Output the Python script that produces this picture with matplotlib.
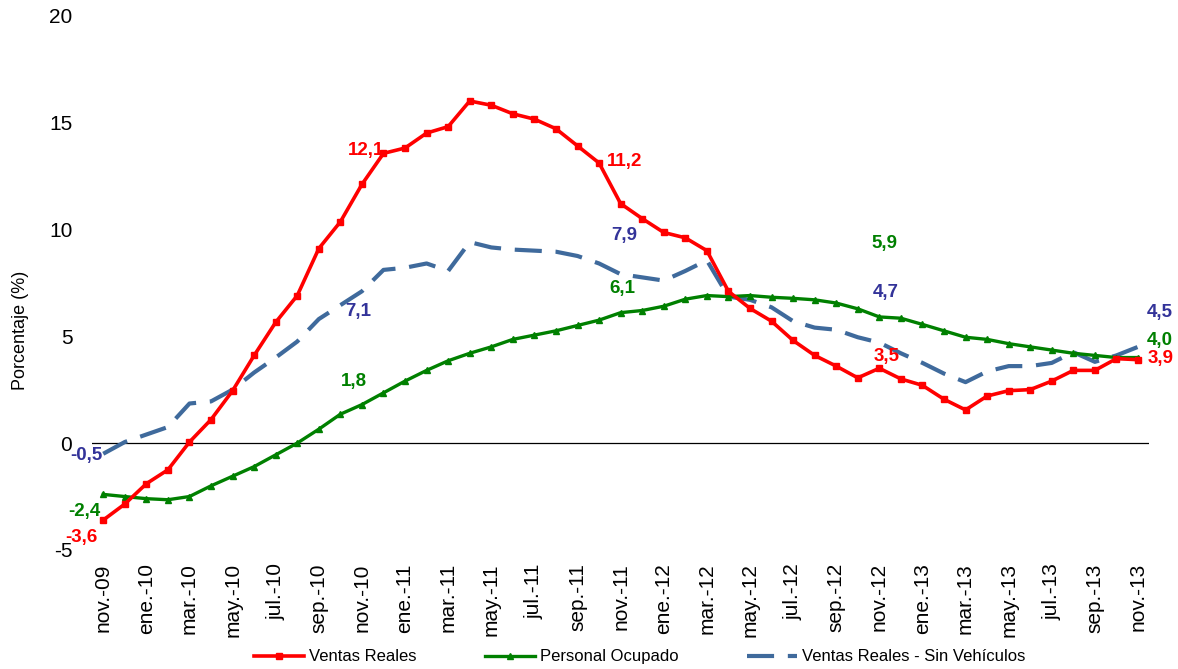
import matplotlib
matplotlib.use("Agg")
import matplotlib.pyplot as plt
import numpy as np

plt.rcParams['font.family'] = ['Liberation Sans', 'DejaVu Sans']
plt.rcParams['axes.unicode_minus'] = False

# monthly series, nov-09 .. nov-13 (49 points)
ventas = [-3.6, -2.85, -1.9, -1.25, 0.05, 1.1, 2.45, 4.1, 5.65, 6.9,
          9.1, 10.35, 12.1, 13.55, 13.8, 14.5, 14.8, 16.0, 15.8, 15.4,
          15.15, 14.7, 13.9, 13.1, 11.2, 10.5, 9.85, 9.6, 9.0, 7.1,
          6.3, 5.7, 4.8, 4.1, 3.6, 3.05, 3.5, 3.0, 2.7, 2.05,
          1.55, 2.2, 2.45, 2.5, 2.9, 3.4, 3.4, 3.95, 3.9]
personal = [-2.4, -2.5, -2.6, -2.65, -2.5, -2.0, -1.55, -1.1, -0.55, 0.0,
            0.65, 1.35, 1.8, 2.35, 2.9, 3.4, 3.85, 4.2, 4.5, 4.85,
            5.05, 5.25, 5.5, 5.75, 6.1, 6.2, 6.4, 6.73, 6.9, 6.85,
            6.9, 6.82, 6.77, 6.7, 6.55, 6.28, 5.9, 5.84, 5.55, 5.25,
            4.95, 4.85, 4.65, 4.5, 4.35, 4.2, 4.1, 4.0, 4.0]
sin_veh = [-0.5, 0.05, 0.4, 0.75, 1.85, 1.95, 2.5, 3.3, 4.0, 4.75,
           5.8, 6.45, 7.1, 8.1, 8.2, 8.4, 8.05, 9.4, 9.15, 9.05,
           9.0, 8.95, 8.75, 8.4, 7.9, 7.75, 7.6, 8.05, 8.55, 6.85,
           6.7, 6.35, 5.7, 5.4, 5.3, 4.95, 4.7, 4.2, 3.75, 3.25,
           2.85, 3.35, 3.6, 3.6, 3.75, 4.25, 3.8, 4.1, 4.5]

tick_labels = ['nov.-09', 'ene.-10', 'mar.-10', 'may.-10', 'jul.-10', 'sep.-10',
               'nov.-10', 'ene.-11', 'mar.-11', 'may.-11', 'jul.-11', 'sep.-11',
               'nov.-11', 'ene.-12', 'mar.-12', 'may.-12', 'jul.-12', 'sep.-12',
               'nov.-12', 'ene.-13', 'mar.-13', 'may.-13', 'jul.-13', 'sep.-13',
               'nov.-13']

label_idx = [0, 12, 24, 36, 48]

x = np.arange(len(ventas))

fig = plt.figure(figsize=(11.78, 6.69), dpi=100)
ax = fig.add_axes([0.0785, 0.1779, 0.8967, 0.799])

l1, = ax.plot(x, ventas, color='#FF0000', lw=2.6, marker='s', ms=4.8,
              label='Ventas Reales', zorder=4)
l2, = ax.plot(x, personal, color='#008000', lw=2.4, marker='^', ms=4.8,
              label='Personal Ocupado', zorder=3)
l3, = ax.plot(x, sin_veh, color='#3F6A9C', lw=3.0, ls=(0, (6.5, 3.3)),
              label='Ventas Reales - Sin Vehículos', zorder=2)

ax.axhline(0, color='black', lw=0.9, zorder=1)

# data labels: (series, text colour, pixel offsets per labelled point)
labels = [
    (ventas, '#FF0000', [(-22, -17), (4.5, 34), (4, 42), (7.5, 12), (23, 1)]),
    (personal, '#008000', [(-19, -17), (-8.5, 23), (2, 24), (5, 73), (22, 17)]),
    (sin_veh, '#333399', [(-17, -2), (-3.5, -20), (4, 39), (6.5, 50), (22, 34)]),
]
for series, col, offs in labels:
    for i, (dx, dy) in zip(label_idx, offs):
        txt = ('%.1f' % series[i]).replace('.', ',')
        ax.annotate(txt, xy=(i, series[i]), xytext=(dx, dy),
                    textcoords='offset pixels', ha='center', va='center',
                    color=col, fontsize=13.5, fontweight='bold', zorder=5)

ax.set_xlim(-0.5, 48.5)
ax.set_ylim(-5, 20)
ax.set_yticks([-5, 0, 5, 10, 15, 20])
ax.set_xticks(x[::2])
ax.set_xticklabels(tick_labels, rotation=90)
ax.tick_params(axis='y', length=0, pad=14.5, labelsize=15)
ax.tick_params(axis='x', length=0, pad=9.5, labelsize=15)
for s in ax.spines.values():
    s.set_visible(False)

ax.set_ylabel('Porcentaje (%)', fontsize=13, va='center')
ax.yaxis.set_label_coords(-0.0686, 0.41)

fig.legend(handles=[l1, l2, l3], loc='center', bbox_to_anchor=(0.543, 0.018),
           ncol=3, frameon=False, fontsize=12, handlelength=3.0,
           handletextpad=0.3, columnspacing=4.1, numpoints=1)

fig.savefig('out.png', dpi=100)
